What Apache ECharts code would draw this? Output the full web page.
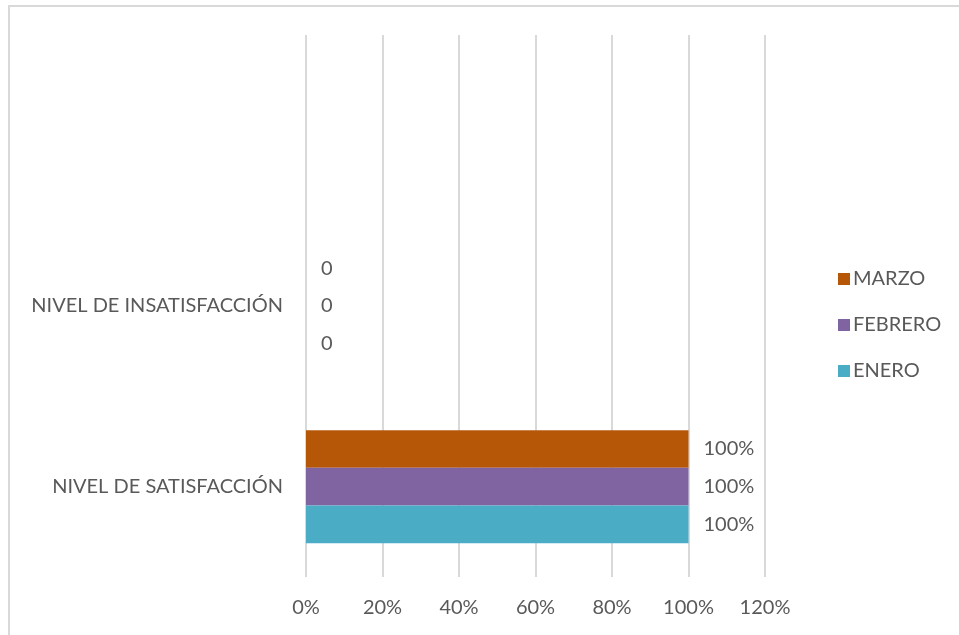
<!DOCTYPE html>
<html>
<head>
<meta charset="utf-8">
<script src="https://cdn.jsdelivr.net/npm/echarts@6/dist/echarts.min.js"></script>
<style>
  html, body { margin: 0; padding: 0; background: #ffffff; }
  #chart { width: 959px; height: 635px; }
</style>
</head>
<body>
<div id="chart"></div>
<script>
// Categories, bottom to top (the top slot is left empty)
const categories = ['NIVEL DE SATISFACCIÓN', 'NIVEL DE INSATISFACCIÓN', ''];
// Values in percent per month
const enero = [100, 0, null];
const febrero = [100, 0, null];
const marzo = [100, 0, null];
const legendOrder = ['MARZO', 'FEBRERO', 'ENERO'];
const colors = { ENERO: '#4BACC6', FEBRERO: '#8064A2', MARZO: '#B65708' };

const FONT = 'Lato';
const TEXT = '#595959';
const SIZE = 20;

const chart = echarts.init(document.getElementById('chart'), null, { renderer: 'canvas' });

function makeSeries(name, data) {
  return {
    name: name,
    type: 'bar',
    data: data,
    barGap: '0%',
    barCategoryGap: '37.5%',
    itemStyle: { color: colors[name] },
    label: {
      show: true,
      position: 'right',
      distance: 15,
      color: TEXT,
      fontFamily: FONT,
      fontSize: SIZE,
      formatter: p => (p.value === 0 ? '0' : p.value + '%')
    }
  };
}

chart.setOption({
  animation: false,
  backgroundColor: '#ffffff',
  graphic: [{
    type: 'rect',
    shape: { x: 9, y: 6, width: 1000, height: 700 },
    style: { fill: 'none', stroke: '#D9D9D9', lineWidth: 2 },
    silent: true
  }],
  grid: { left: 306, right: 194, top: 35, bottom: 58, containLabel: false },
  legend: {
    orient: 'vertical',
    left: 833,
    top: 264,
    itemWidth: 12,
    itemHeight: 12,
    itemGap: 26,
    icon: 'rect',
    data: legendOrder,
    textStyle: { color: TEXT, fontFamily: FONT, fontSize: SIZE, padding: [0, 0, 0, -2] }
  },
  xAxis: {
    type: 'value',
    min: 0,
    max: 120,
    interval: 20,
    axisLine: { show: false },
    axisTick: { show: false },
    axisLabel: {
      color: TEXT, fontFamily: FONT, fontSize: SIZE, margin: 21,
      formatter: v => v + '%'
    },
    splitLine: { show: true, lineStyle: { color: '#D9D9D9', width: 2 } }
  },
  yAxis: {
    type: 'category',
    data: categories,
    axisLine: { show: false },
    axisTick: { show: false },
    axisLabel: { color: TEXT, fontFamily: FONT, fontSize: SIZE, margin: 23 }
  },
  // Series listed top-to-bottom within each category band
  series: [
    makeSeries('MARZO', marzo),
    makeSeries('FEBRERO', febrero),
    makeSeries('ENERO', enero)
  ]
});
</script>
</body>
</html>
